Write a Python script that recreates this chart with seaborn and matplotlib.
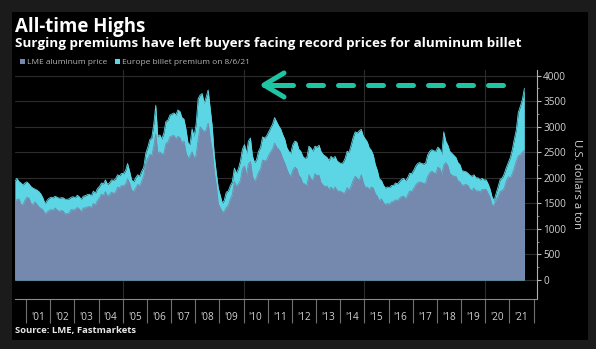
import pandas as pd
import matplotlib
matplotlib.use("Agg")
import matplotlib.pyplot as plt
import matplotlib.dates as mdates
from matplotlib.lines import Line2D
from matplotlib.patches import Rectangle
from matplotlib.ticker import FixedLocator, FixedFormatter, NullFormatter
import seaborn as sns

# Monthly LME aluminum price, $/t (Jul 2000 .. Aug 2021)
lme_price = [
    1560, 1570, 1590, 1480, 1470, 1560,                                # 2000 H2
    1620, 1600, 1500, 1470, 1530, 1480, 1430, 1400, 1370, 1290, 1330, 1360,  # 2001
    1380, 1360, 1410, 1370, 1340, 1360, 1350, 1290, 1300, 1310, 1380, 1370,  # 2002
    1380, 1420, 1390, 1330, 1410, 1410, 1430, 1440, 1410, 1500, 1460, 1550,  # 2003
    1610, 1680, 1650, 1730, 1640, 1670, 1720, 1690, 1720, 1820, 1800, 1850,  # 2004
    1840, 1880, 1980, 1890, 1760, 1730, 1800, 1870, 1840, 1930, 2050, 2280,  # 2005
    2380, 2460, 2430, 2620, 2860, 2480, 2510, 2460, 2480, 2670, 2700, 2800,  # 2006
    2820, 2830, 2760, 2810, 2790, 2680, 2720, 2500, 2380, 2430, 2510, 2390,  # 2007
    2440, 2760, 3000, 2950, 2900, 2940, 3070, 2770, 2530, 2110, 1850, 1490,  # 2008
    1410, 1330, 1340, 1420, 1460, 1580, 1670, 1930, 1830, 1880, 1950, 2180,  # 2009
    2230, 2050, 2270, 2320, 2040, 1930, 1990, 2110, 2170, 2350, 2330, 2350,  # 2010
    2440, 2510, 2560, 2680, 2600, 2560, 2500, 2380, 2290, 2180, 2080, 2020,  # 2011
    2150, 2210, 2180, 2050, 2000, 1890, 1880, 1840, 2060, 1980, 1950, 2080,  # 2012
    2040, 2050, 1910, 1860, 1830, 1840, 1770, 1820, 1760, 1820, 1750, 1740,  # 2013
    1730, 1700, 1710, 1810, 1750, 1840, 1950, 2030, 1990, 1950, 2060, 1910,  # 2014
    1810, 1820, 1770, 1820, 1800, 1690, 1640, 1550, 1590, 1520, 1470, 1500,  # 2015
    1480, 1530, 1530, 1570, 1550, 1600, 1630, 1640, 1590, 1660, 1740, 1730,  # 2016
    1790, 1860, 1900, 1920, 1910, 1890, 1900, 2030, 2100, 2130, 2100, 2080,  # 2017
    2210, 2180, 2070, 2250, 2300, 2240, 2090, 2050, 2030, 2030, 1940, 1920,  # 2018
    1850, 1860, 1870, 1850, 1780, 1750, 1800, 1740, 1750, 1720, 1770, 1770,  # 2019
    1770, 1690, 1610, 1460, 1470, 1580, 1640, 1740, 1750, 1800, 1940, 2020,  # 2020
    2000, 2080, 2190, 2330, 2430, 2450, 2500, 2540,                          # 2021
]

# Europe billet premium stacked on the LME price, $/t
billet_premium = [
    365, 420, 340, 420, 390, 340,
    300, 280, 330, 330, 250, 280, 300, 280, 230, 200, 230, 240,
    240, 250, 230, 250, 260, 250, 260, 290, 280, 280, 240, 260,
    230, 240, 240, 250, 230, 240, 240, 240, 240, 240, 240, 240,
    220, 220, 230, 230, 230, 230, 240, 260, 260, 240, 240, 240,
    240, 270, 300, 240, 200, 190, 200, 190, 190, 200, 160, 200,
    220, 290, 350, 430, 560, 330, 330, 300, 400, 430, 430, 430,
    430, 440, 470, 520, 510, 500, 430, 450, 300, 220, 450, 420,
    610, 790, 620, 700, 560, 640, 650, 580, 470, 340, 250, 310,
    240, 170, 220, 300, 280, 270, 250, 260, 260, 300, 380, 380,
    420, 430, 450, 460, 390, 370, 360, 410, 430, 450, 450, 470,
    460, 470, 490, 500, 500, 460, 460, 470, 470, 420, 440, 460,
    500, 510, 520, 510, 520, 530, 500, 560, 560, 600, 570, 540,
    560, 590, 610, 600, 600, 560, 570, 600, 620, 600, 580, 560,
    550, 600, 670, 710, 750, 800, 840, 870, 890, 970, 890, 910,
    950, 880, 820, 720, 650, 570, 510, 430, 360, 340, 330, 320,
    330, 320, 320, 330, 330, 330, 340, 350, 350, 340, 350, 350,
    360, 370, 380, 380, 370, 380, 390, 420, 420, 420, 430, 440,
    390, 380, 390, 650, 420, 400, 430, 430, 410, 370, 360, 340,
    290, 270, 250, 240, 270, 280, 260, 260, 250, 240, 220, 190,
    190, 190, 170, 160, 90, 120, 190, 230, 250, 280, 260, 280,
    400, 480, 560, 610, 850, 950, 1030, 1210,
]

year_labels = ["'01", "'02", "'03", "'04", "'05", "'06", "'07", "'08", "'09", "'10",
               "'11", "'12", "'13", "'14", "'15", "'16", "'17", "'18", "'19", "'20", "'21"]
y_ticks = [0, 500, 1000, 1500, 2000, 2500, 3000, 3500, 4000]

SLATE = "#7489ad"
CYAN = "#5cd6e4"
TEAL = "#1fc4a2"
TICK_TXT = "#d2d2d2"

sns.set_theme(style="dark")
plt.rcParams["font.family"] = ["Open Sans", "DejaVu Sans"]

W, H = 596, 349
fig = plt.figure(figsize=(W / 100, H / 100), dpi=100, facecolor="#1b1b1b")
fig.add_artist(Rectangle((12 / W, 1 - 340 / H), 576 / W, 328 / H, transform=fig.transFigure,
                         facecolor="black", edgecolor="none", zorder=-5))

ax = fig.add_axes([15 / W, 1 - 299 / H, (537 - 15) / W, (299 - 70) / H])
ax.set_facecolor("black")

dates = pd.date_range("2000-07-01", periods=len(lme_price), freq="MS") + pd.Timedelta(days=14)
df = pd.DataFrame({"date": dates, "lme": lme_price, "premium": billet_premium})
df["total"] = df["lme"] + df["premium"]

# stacked areas: premium on top of the LME price
ax.fill_between(df["date"], 0, df["total"], color=CYAN, lw=0, zorder=2)
sns.lineplot(data=df, x="date", y="total", color=CYAN, lw=0.6, ax=ax, zorder=2.5)
ax.fill_between(df["date"], 0, df["lme"], color=SLATE, lw=0, zorder=3)
sns.lineplot(data=df, x="date", y="lme", color=SLATE, lw=0.6, ax=ax, zorder=3.5)

ax.set_xlim(pd.Timestamp("2000-07-18"), pd.Timestamp("2022-02-22"))
ax.set_ylim(-372, 4111)
ax.set_xlabel("")
ax.set_ylabel("")

# grid
for v in y_ticks:
    ax.axhline(v, color="#2c2c2c", lw=0.8, zorder=1)
for yr in (2005, 2010, 2015, 2020):
    ax.axvline(pd.Timestamp(f"{yr}-01-01"), color="#2c2c2c", lw=0.8, zorder=1)
ax.grid(False)

# x axis: year boundaries as long ticks, labels centred in each year
ax.xaxis.set_major_locator(mdates.YearLocator(1))
ax.xaxis.set_major_formatter(NullFormatter())
mid_years = [mdates.date2num(pd.Timestamp(f"{2001 + i}-07-02")) for i in range(len(year_labels))]
ax.xaxis.set_minor_locator(FixedLocator(mid_years))
ax.xaxis.set_minor_formatter(FixedFormatter(year_labels))
ax.tick_params(axis="x", which="major", bottom=True, length=17.5, width=0.8, color="#707070", direction="out")
ax.tick_params(axis="x", which="minor", bottom=True, length=0, pad=9.5, labelsize=7.2, labelcolor=TICK_TXT)

# y axis on the right
ax.yaxis.tick_right()
ax.set_yticks(y_ticks)
ax.set_yticklabels([str(v) for v in y_ticks])
ax.yaxis.set_minor_locator(FixedLocator([v + 250 for v in y_ticks[:-1]]))
ax.tick_params(axis="y", which="major", right=True, left=False, length=3, width=0.8,
               color="#bbbbbb", labelsize=7.2, labelcolor=TICK_TXT, pad=1.5, direction="out")
ax.tick_params(axis="y", which="minor", right=True, left=False, length=1.5, width=0.6,
               color="#999999", direction="out")

for side in ("left", "top"):
    ax.spines[side].set_visible(False)
ax.spines["right"].set_color("#b0b0b0")
ax.spines["right"].set_linewidth(0.8)
ax.spines["bottom"].set_color("#8a8a8a")
ax.spines["bottom"].set_linewidth(0.8)

fig.text(577 / W, 1 - 184 / H, "U.S. dollars a ton", rotation=270, ha="center", va="center",
         fontsize=8.2, color=TICK_TXT)

# headings
fig.text(15 / W, 1 - 32 / H, "All-time Highs", fontsize=13.4, fontweight="bold",
         color="white", va="baseline")
fig.text(15 / W, 1 - 46.5 / H,
         "Surging premiums have left buyers facing record prices for aluminum billet",
         fontsize=9.7, fontweight="bold", color="white", va="baseline")

# legend
for sx, tx, col, label in ((20, 27, SLATE, "LME aluminum price"),
                           (115, 122, CYAN, "Europe billet premium on 8/6/21")):
    fig.add_artist(Rectangle((sx / W, 1 - 64 / H), 5 / W, 5 / H, transform=fig.transFigure,
                             facecolor=col, edgecolor="none"))
    fig.text(tx / W, 1 - 64 / H, label, fontsize=6.0, color="#b4b4b4", va="baseline")

fig.text(15 / W, 1 - 333 / H, "Source: LME, Fastmarkets", fontsize=6.8, fontweight="bold",
         color="#e8e8e8", va="baseline")

# arrow pointing back to the 2008 record
def fx(px):
    return px / W

def fy(py):
    return 1 - py / H

arrow_y = 85
fig.add_artist(Line2D([fx(503), fx(300)], [fy(arrow_y), fy(arrow_y)], transform=fig.transFigure,
                      color=TEAL, lw=3.6, linestyle=(0, (3, 3)), dash_capstyle="round"))
fig.add_artist(Line2D([fx(293), fx(264)], [fy(arrow_y), fy(arrow_y)], transform=fig.transFigure,
                      color=TEAL, lw=3.6, solid_capstyle="round"))
fig.add_artist(Line2D([fx(284), fx(264), fx(284)], [fy(73), fy(arrow_y), fy(97)],
                      transform=fig.transFigure, color=TEAL, lw=3.6,
                      solid_capstyle="round", solid_joinstyle="round"))

fig.savefig("out.png", dpi=100, facecolor=fig.get_facecolor())
